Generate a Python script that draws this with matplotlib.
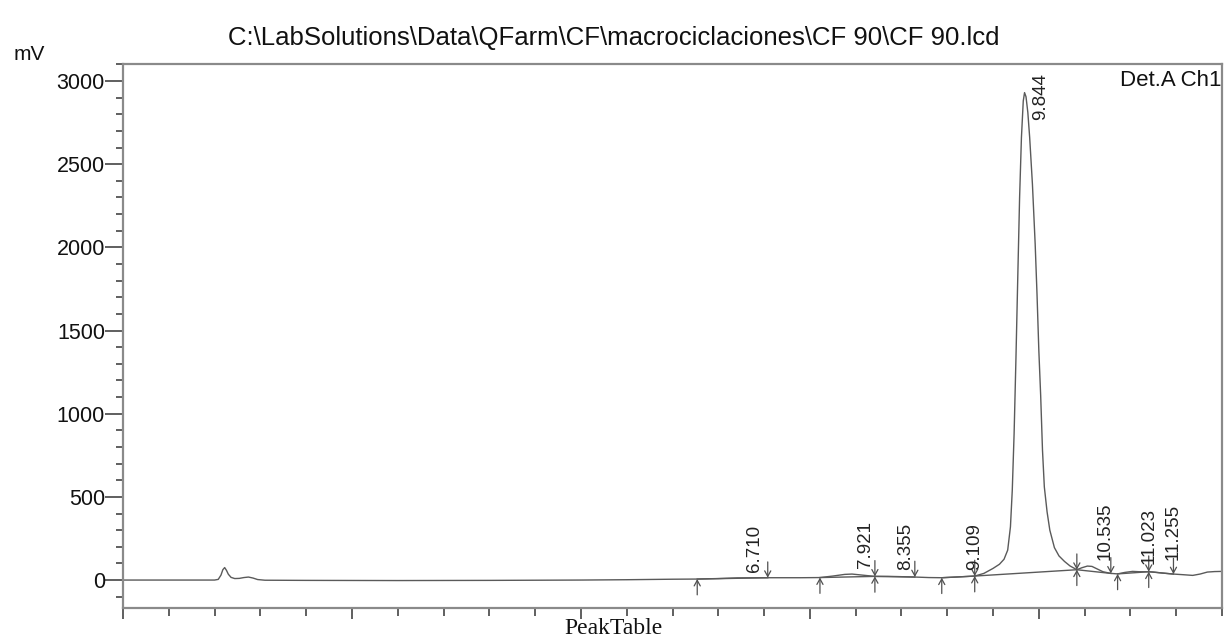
import numpy as np
import matplotlib.pyplot as plt
from matplotlib.ticker import MultipleLocator, NullFormatter

# Detector trace (time in min, signal in mV)
time_min = [0.00, 0.50, 1.00, 1.04, 1.07, 1.09, 1.11, 1.13, 1.15, 1.18, 1.22, 1.27,
            1.32, 1.37, 1.42, 1.47, 1.55, 2.00, 3.00, 4.00, 5.00, 5.50, 6.00, 6.27,
            6.50, 6.71, 7.04, 7.40, 7.61, 7.75, 7.88, 7.96, 8.05, 8.21, 8.35, 8.45,
            8.65, 8.80, 8.94, 9.10, 9.30, 9.40, 9.50, 9.57, 9.62, 9.66, 9.69, 9.71,
            9.73, 9.75, 9.77, 9.79, 9.81, 9.83, 9.844, 9.86, 9.88, 9.90, 9.93, 9.96,
            9.98, 10.00, 10.02, 10.04, 10.06, 10.09, 10.12, 10.17, 10.22, 10.28, 10.34,
            10.415, 10.47, 10.53, 10.58, 10.64, 10.70, 10.786, 10.86, 10.94, 11.023,
            11.10, 11.20, 11.255, 11.35, 11.47, 11.58, 11.68, 11.76, 11.84, 11.92, 12.00]
signal_mv = [0, 0, 0, 4, 30, 62, 75, 58, 35, 16, 9, 10,
             15, 18, 12, 3, -1, -2, -3, -2, 0, 2, 5, 6,
             9, 13, 14, 14, 15, 24, 34, 36, 31, 22, 22, 21,
             18, 15, 14, 18, 24, 40, 70, 95, 125, 180, 320, 540,
             880, 1330, 1820, 2300, 2660, 2880, 2930, 2905, 2810, 2660, 2380, 2020,
             1720, 1380, 1110, 780, 560, 410, 300, 195, 145, 112, 85,
             62, 74, 84, 82, 66, 50, 40, 37, 46, 52,
             50, 50, 48, 42, 36, 32, 28, 36, 48, 51, 52]

# Integrated peaks: retention time, start and end of integration
peak_rt = [6.710, 7.921, 8.355, 9.109, 9.844, 10.535, 11.023, 11.255]
peak_start = [6.27, 7.61, 8.21, 8.94, 9.30, 10.415, 10.86, 11.20]
peak_end = [7.04, 8.21, 8.646, 9.30, 10.415, 10.786, 11.20, 11.47]

# label placement relative to the peak end marker (min, mV)
label_shift = [-0.14, -0.10, -0.10, 0.0, 0.0, -0.06, 0.0, 0.0]
label_lift = [34, 50, 42, 38, 0, 80, 48, 84]

trace_color = '#5a5a5a'
mark_color = '#505050'

plt.rcParams['font.family'] = ['Liberation Sans', 'DejaVu Sans']

fig = plt.figure(figsize=(12.27, 6.42), dpi=100)
ax = fig.add_axes([123 / 1227, 1 - 608 / 642, 1099 / 1227, 544 / 642])

ax.plot(time_min, signal_mv, color=trace_color, lw=1.0)

# baselines under each peak
for s, e in zip(peak_start, peak_end):
    ys = np.interp(s, time_min, signal_mv)
    ye = np.interp(e, time_min, signal_mv)
    ax.plot([s, e], [ys, ye], color=trace_color, lw=1.0)

arrow = dict(arrowstyle='->,head_length=0.4,head_width=0.22', color=mark_color,
             lw=0.9, shrinkA=0, shrinkB=0)

# start markers (up arrows) and end markers (down arrows)
for s in peak_start:
    y = np.interp(s, time_min, signal_mv)
    ax.annotate('', xy=(s, y), xytext=(s, y - 95), arrowprops=arrow)
for e in peak_end:
    y = np.interp(e, time_min, signal_mv)
    ax.annotate('', xy=(e, y), xytext=(e, y + 95), arrowprops=arrow)

# retention time labels
for rt, e, dx, dy in zip(peak_rt, peak_end, label_shift, label_lift):
    if rt == 9.844:
        top = np.interp(rt, time_min, signal_mv)
        ax.text(rt + 0.18, top + 115, f'{rt:.3f}', rotation=90, ha='center',
                va='top', fontsize=13.5, color='#222222')
        continue
    y = np.interp(e, time_min, signal_mv)
    ax.text(e + dx, y + dy, f'{rt:.3f}', rotation=90, ha='center', va='bottom',
            fontsize=13.5, color='#222222')

ax.set_xlim(0, 12)
ax.set_ylim(-168, 3102)

ax.xaxis.set_major_locator(MultipleLocator(2.5))
ax.xaxis.set_minor_locator(MultipleLocator(0.5))
ax.xaxis.set_major_formatter(NullFormatter())
ax.yaxis.set_major_locator(MultipleLocator(500))
ax.yaxis.set_minor_locator(MultipleLocator(100))

ax.tick_params(axis='x', which='major', length=8, width=1.2, color='#444444')
ax.tick_params(axis='x', which='minor', length=6, width=1.2, color='#444444')
ax.tick_params(axis='y', which='major', length=13, width=1.2, color='#444444',
               labelsize=15.5, pad=0, labelcolor='#111111')
ax.tick_params(axis='y', which='minor', length=5, width=1.2, color='#444444')

for sp in ax.spines.values():
    sp.set_color('#8a8a8a')
    sp.set_linewidth(1.6)

ax.text(0.9995, 1 - 6 / 544, 'Det.A Ch1', transform=ax.transAxes, ha='right',
        va='top', fontsize=16, color='#111111')

fig.text(0.5, 1 - 38 / 642, r'C:\LabSolutions\Data\QFarm\CF\macrociclaciones\CF 90\CF 90.lcd',
         ha='center', va='center', fontsize=18.5, color='#111111')
fig.text(14 / 1227, 1 - 60 / 642, 'mV', ha='left', va='baseline', fontsize=15,
         color='#111111')
fig.text(0.5, 1 - 628 / 642, 'PeakTable', ha='center', va='center', fontsize=17,
         family='Liberation Serif', color='#111111')

fig.savefig('out.png', dpi=100)
